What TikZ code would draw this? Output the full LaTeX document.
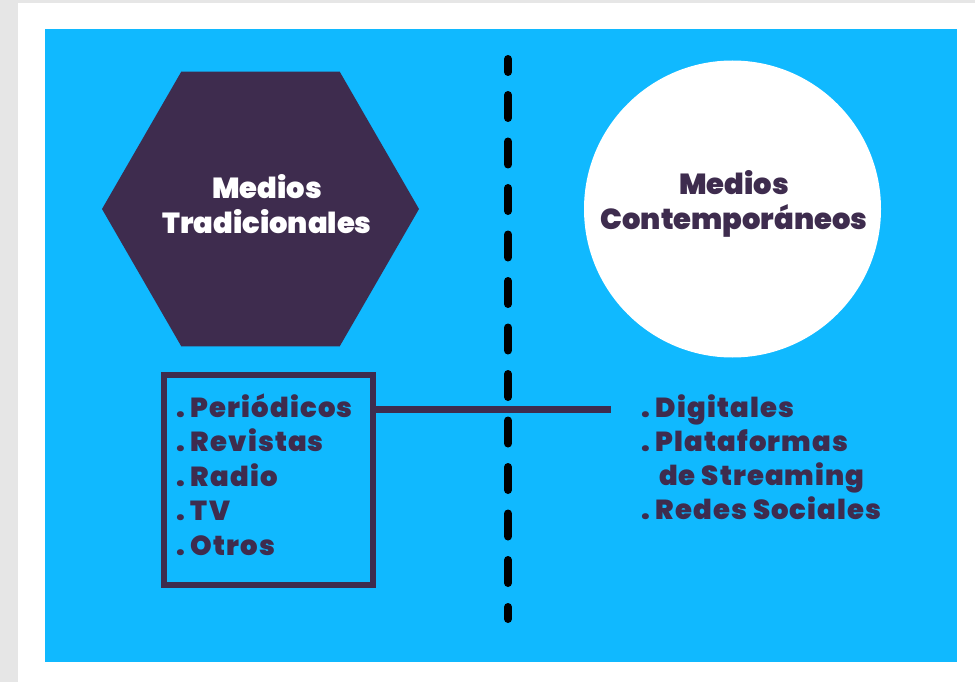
\documentclass[tikz,border=0pt]{standalone}
\usepackage{fontspec}
\setmainfont{Poppins}[UprightFont={* Black}]
\newfontfamily\itemfont{Poppins}[UprightFont={* Black},LetterSpace=4]
\usetikzlibrary{positioning,shapes.geometric}
\definecolor{sky}{HTML}{10B9FF}
\definecolor{plum}{HTML}{3E2C4E}
\definecolor{frame}{HTML}{E6E6E6}
\tikzset{
    % Shapes
    hexa/.style={regular polygon,regular polygon sides=6,fill=plum,inner sep=0pt,minimum size=317pt},
    disc/.style={circle,fill=white,inner sep=0pt,minimum size=297pt},
    listbox/.style={draw=plum,line width=6pt,inner sep=0pt,minimum width=209pt,minimum height=210pt},
    %
    % Texts
    headtext/.style={align=center,inner sep=0pt,font=\fontsize{29}{35}\selectfont},
    item/.style={anchor=base west,inner sep=0pt,text=plum,font=\itemfont\fontsize{27.5}{34}\selectfont},
    %
    % Lines
    conn/.style={draw=plum,line width=7pt},
    dashpiece/.style={line width=8pt,line cap=round},
}

\begin{document}
\begin{tikzpicture}[x=1pt,y=-1pt]
        \fill[frame] (0,0) rectangle (975,682);
        \fill[white] (18,3) rectangle (975,682);
        \fill[sky] (45,29) rectangle (957,662);
        % the two kinds of media
        \node[hexa] (trad) at (260.5,209) {};
        \node[headtext,text=white] (tradtext) at (267,204) {Medios\\Tradicionales};
        \node[disc] (cont) at (732.5,209) {};
        \node[headtext,text=plum] (conttext) at (734,204) {Medios\\Contemporáneos};
        % divider
        \draw[dashpiece] (508,59) -- (508,72);
        \foreach \k in {0,...,10}
            \draw[dashpiece] (508,{95+46.5*\k}) -- (508,{118+46.5*\k});
        \draw[dashpiece] (508,607) -- (508,619);
        % lists
        \node[listbox] (box) at (268.5,480) {};
        \foreach \t [count=\i] in {Periódicos,Revistas,Radio,TV,Otros}
            \node[item] (old\i) at (176,{417+34.5*(\i-1)}) {.\hspace{6pt}\t};
        \node[item] (new1) at (641,417) {.\hspace{6pt}Digitales};
        \node[item] (new2) at (641,451) {.\hspace{6pt}Plataformas};
        \node[item] (new3) at (659,485) {de Streaming};
        \node[item] (new4) at (641,519) {.\hspace{6pt}Redes Sociales};
        \coordinate (connend) at (611,409);
        \draw[conn] (box.east |- connend) -- (connend);
    \end{tikzpicture}
\end{document}
